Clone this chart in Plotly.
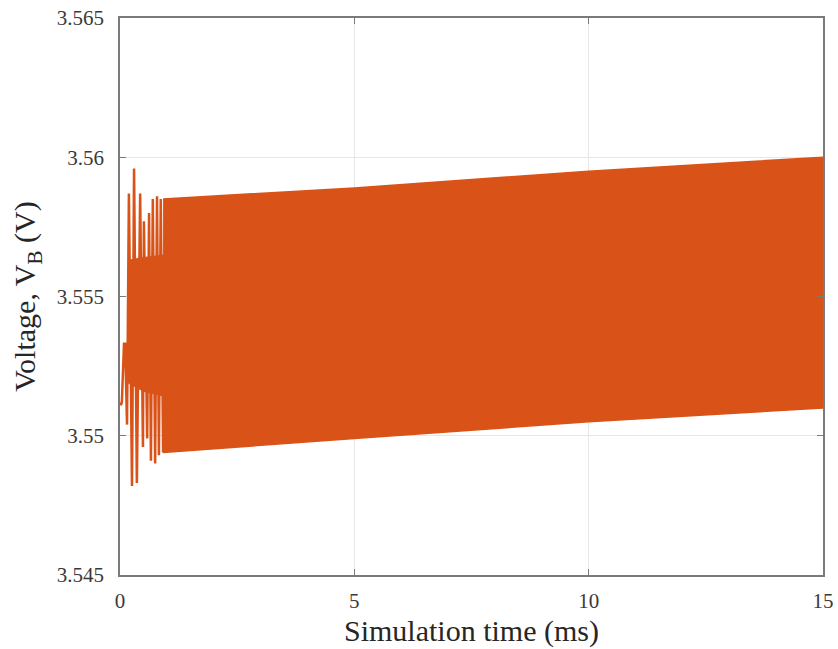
import plotly.graph_objects as go

# Early transient: individual peaks/troughs (time in ms, voltage in V)
transient_t = [0.0, 0.02, 0.04, 0.085, 0.11, 0.15, 0.19, 0.256, 0.30, 0.36, 0.43, 0.49,
               0.51, 0.58, 0.62, 0.66, 0.70, 0.75, 0.79, 0.83, 0.87, 0.92, 0.96, 1.0]
transient_v = [3.5512, 3.5511, 3.5512, 3.5533, 3.5533, 3.5504, 3.5587, 3.5482, 3.5596, 3.5483,
               3.5587, 3.5496, 3.5577, 3.5499, 3.5580, 3.5491, 3.5585, 3.5490, 3.5586, 3.5493,
               3.5585, 3.5494, 3.5585, 3.5494]

# Solid core of the transient (where the oscillation overlaps densely)
core_t = [0.17, 0.5, 1.0]
core_upper = [3.5563, 3.5564, 3.5565]
core_lower = [3.5519, 3.5516, 3.5514]

# Steady oscillation envelope (dense band)
env_t = [0.92, 5.0, 10.0, 15.0]
env_upper = [3.5585, 3.5589, 3.5595, 3.5600]
env_lower = [3.5494, 3.5499, 3.5505, 3.5510]

x_ticks = [0, 5, 10, 15]
y_ticks = [3.545, 3.55, 3.555, 3.56, 3.565]
y_tick_text = ["3.545", "3.55", "3.555", "3.56", "3.565"]

color = "#D95319"
axis_color = "#7a7a7a"
font = "Liberation Serif"

fig = go.Figure()
fig.add_trace(go.Scatter(
    x=core_t + core_t[::-1],
    y=core_upper + core_lower[::-1],
    fill="toself", fillcolor=color, mode="lines",
    line=dict(color=color, width=1), hoverinfo="skip", showlegend=False))
fig.add_trace(go.Scatter(
    x=env_t + env_t[::-1],
    y=env_upper + env_lower[::-1],
    fill="toself", fillcolor=color, mode="lines",
    line=dict(color=color, width=1.5), hoverinfo="skip", showlegend=False))
fig.add_trace(go.Scatter(
    x=transient_t, y=transient_v, mode="lines",
    line=dict(color=color, width=2.5), showlegend=False))

axis_common = dict(
    showline=True, linecolor=axis_color, linewidth=1.5, mirror="ticks",
    ticks="inside", ticklen=6, tickcolor=axis_color, tickwidth=1,
    showgrid=True, gridcolor="#e6e6e6", gridwidth=1, zeroline=False,
    automargin=False,
    tickfont=dict(family=font, size=21, color="#3a3a3a"),
)

fig.update_xaxes(range=[0, 15], tickvals=x_ticks, ticktext=[str(v) for v in x_ticks],
                 ticklabelstandoff=6,
                 title=dict(text="Simulation time (ms)", font=dict(family=font, size=30, color="#262626"),
                            standoff=8),
                 **axis_common)
fig.update_yaxes(range=[3.545, 3.565], tickvals=y_ticks, ticktext=y_tick_text,
                 ticklabelstandoff=10,
                 title=dict(text="Voltage, V<sub>B</sub> (V)", font=dict(family=font, size=30, color="#262626"),
                            standoff=12),
                 **axis_common)

fig.update_layout(
    width=838, height=649,
    margin=dict(l=120, r=15, t=18, b=74),
    plot_bgcolor="white", paper_bgcolor="white",
    showlegend=False,
)

fig.write_html("out.html")
